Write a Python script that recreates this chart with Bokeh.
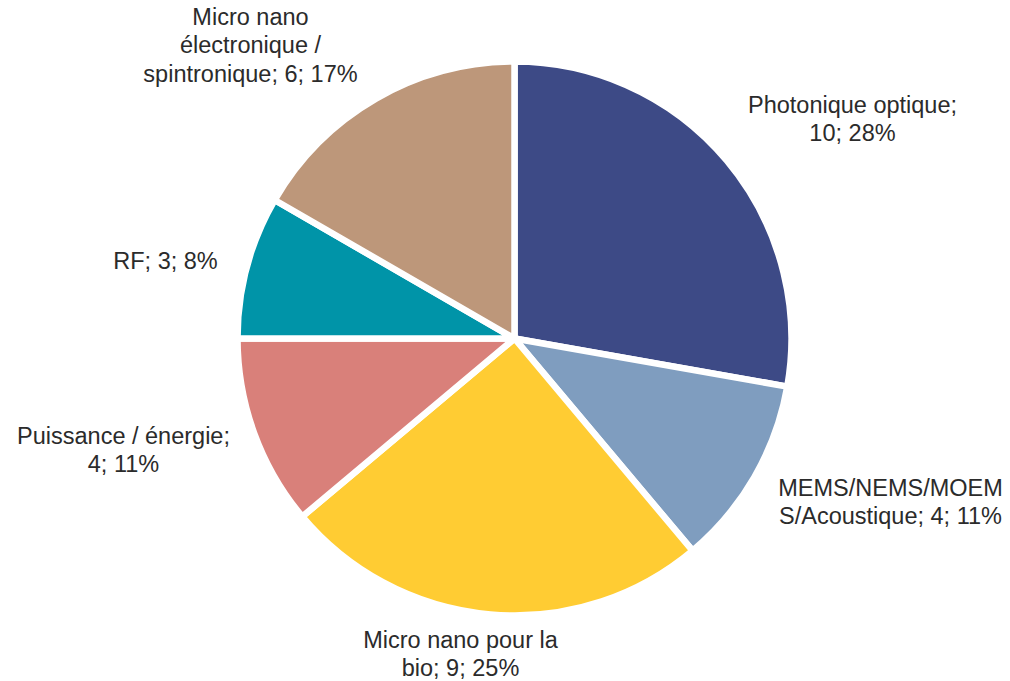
import math
from bokeh.plotting import figure
from bokeh.models import Range1d, ColumnDataSource
from bokeh.core.properties import value
from bokeh.embed import file_html
from bokeh.resources import INLINE

# ---- data ----
categories = ["Photonique optique", "MEMS/NEMS/MOEMS/Acoustique", "Micro nano pour la bio",
              "Puissance / énergie", "RF", "Micro nano électronique / spintronique"]
counts = [10, 4, 9, 4, 3, 6]
colors = ["#3D4A86", "#7F9DBF", "#FFCC33", "#D9807A", "#0094A8", "#BD977A"]
label_texts = [
    "Photonique optique;\n10; 28%",
    "MEMS/NEMS/MOEM\nS/Acoustique; 4; 11%",
    "Micro nano pour la\nbio; 9; 25%",
    "Puissance / énergie;\n4; 11%",
    "RF; 3; 8%",
    "Micro nano\nélectronique /\nspintronique; 6; 17%",
]

# ---- layout (pixel coordinates on the page, y measured from top) ----
W, H = 1010, 681
CX, CY, R = 514, 338, 277
label_pos = [(852, 118.5), (890, 501.5), (460, 653.5), (123, 449.5), (165, 260), (250, 45)]

def py(y):
    return H - y

total = sum(counts)
starts, ends = [], []
cum = 0
for c in counts:
    a0 = math.pi / 2 - 2 * math.pi * (cum + c) / total
    a1 = math.pi / 2 - 2 * math.pi * cum / total
    starts.append(a0)
    ends.append(a1)
    cum += c

src = ColumnDataSource(dict(start=starts, end=ends, color=colors, cat=categories))

p = figure(width=W, height=H, output_backend="svg", toolbar_location=None,
           x_range=Range1d(0, W), y_range=Range1d(0, H),
           min_border=0, outline_line_color=None, background_fill_color="white",
           border_fill_color="white")
p.axis.visible = False
p.grid.visible = False

p.wedge(x=CX, y=py(CY), radius=R, start_angle="start", end_angle="end",
        fill_color="color", line_color="white", line_width=6.5, source=src)

lsrc = ColumnDataSource(dict(x=[q[0] for q in label_pos], y=[py(q[1]) for q in label_pos],
                             text=label_texts))
p.text(x="x", y="y", text="text", source=lsrc, text_align="center", text_baseline="middle",
       text_font=value("Liberation Sans"), text_font_size="23.5px", text_color="#2B2B2B",
       text_line_height=1.08)

open("out.html", "w").write(file_html(p, INLINE))
